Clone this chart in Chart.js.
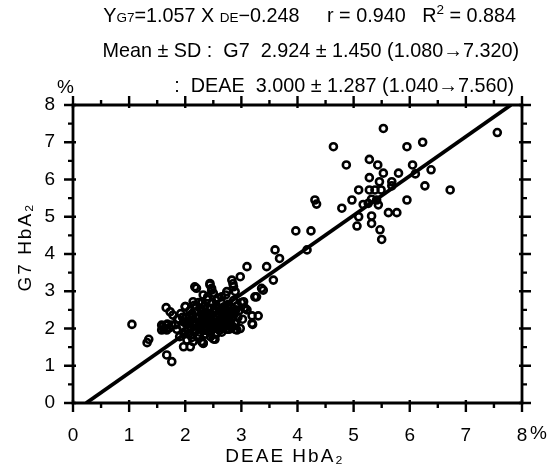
<!DOCTYPE html>
<html>
<head>
<meta charset="utf-8">
<script src="https://cdn.jsdelivr.net/npm/chart.js@4.4.1/dist/chart.umd.min.js"></script>
<style>
html,body{margin:0;padding:0;background:#fff;}
#c{display:block;}
</style>
</head>
<body>
<canvas id="c" width="550" height="468"></canvas>
<script>
// ---- data ----
const xTicks = [0, 1, 2, 3, 4, 5, 6, 7, 8];
const yTicks = [0, 1, 2, 3, 4, 5, 6, 7, 8];
const slope = 1.057;
const intercept = -0.248;

// DEAE HbA2 (x) values
const deae = [
  // upper group
  5.53, 7.56, 4.64, 5.95, 6.23, 4.87, 5.28, 5.43, 5.53, 5.80, 6.05, 6.10, 6.38, 5.28, 5.46, 5.68, 5.68,
  5.09, 5.28, 5.38, 5.49, 6.27, 6.72, 4.97, 5.32, 5.41, 5.95, 4.79, 5.17, 5.26, 5.44, 5.62, 5.77,
  5.09, 5.32, 5.06, 5.32, 5.47, 5.50, 4.31, 4.34,
  // middle
  3.97, 4.24, 4.17, 3.60, 3.68, 3.10, 3.45, 2.98, 3.57, 2.83, 3.36, 3.24, 2.20, 2.44, 2.47, 2.86,
  2.47, 2.74, 2.89, 2.14, 3.10, 3.30, 3.19, 3.19, 3.27, 3.39, 3.04, 3.07, 3.20,
  // low outliers
  1.05, 1.32, 1.35, 1.67, 1.76, 1.66, 1.73, 1.58, 1.67, 1.76, 1.58, 1.67, 1.86, 2.00,
  1.97, 2.09, 2.32, 2.53, 2.74, 2.92, 2.89,
  // dense cluster
  1.78, 1.82, 1.85, 1.88, 1.90, 1.92, 1.95, 1.97, 2.00, 2.00, 2.02, 2.03, 2.05, 2.06, 2.08, 2.10,
  2.10, 2.12, 2.13, 2.14, 2.15, 2.16, 2.17, 2.18, 2.19, 2.20, 2.21, 2.22, 2.23, 2.24, 2.25, 2.26,
  2.27, 2.28, 2.29, 2.30, 2.31, 2.32, 2.32, 2.33, 2.34, 2.35, 2.36, 2.37, 2.38, 2.39, 2.40, 2.41,
  2.42, 2.43, 2.44, 2.44, 2.45, 2.46, 2.47, 2.48, 2.49, 2.50, 2.50, 2.51, 2.52, 2.53, 2.54, 2.55,
  2.56, 2.57, 2.58, 2.59, 2.60, 2.61, 2.62, 2.63, 2.64, 2.65, 2.66, 2.68, 2.69, 2.70, 2.72, 2.73,
  2.74, 2.75, 2.77, 2.78, 2.79, 2.80, 2.82, 2.83, 2.85, 2.85, 2.86, 2.88, 2.90, 2.92, 2.94, 2.96,
  2.98, 3.00, 3.02, 3.05, 1.60, 1.62, 1.68, 1.72,
  // cluster core
  2.05, 2.12, 2.18, 2.22, 2.26, 2.28, 2.30, 2.35, 2.38, 2.40, 2.42, 2.45, 2.48, 2.50, 2.52, 2.55,
  2.58, 2.60, 2.62, 2.65, 2.68, 2.70, 2.72, 2.75, 2.78, 2.80, 2.82, 2.85, 2.88, 2.90, 2.15, 2.25,
  2.35, 2.45, 2.55, 2.65, 2.20, 2.30, 2.40, 2.55, 2.65, 2.75, 1.95, 2.00, 2.08, 1.98
];
// G7 HbA2 (y) values
const g7 = [
  7.37, 7.26, 6.88, 6.88, 7.00, 6.39, 6.54, 6.39, 6.17, 6.17, 6.39, 6.15, 6.26, 6.05, 5.94, 5.94, 5.83,
  5.72, 5.72, 5.72, 5.72, 5.83, 5.72, 5.45, 5.47, 5.45, 5.45, 5.23, 5.33, 5.36, 5.32, 5.11, 5.11,
  5.00, 5.02, 4.75, 4.82, 4.65, 4.39, 5.45, 5.34,
  4.62, 4.62, 4.11, 4.11, 3.88, 3.66, 3.66, 3.39, 3.30, 3.30, 3.08, 2.85, 3.08, 3.21, 3.08, 3.12,
  3.03, 2.99, 2.99, 2.72, 2.50, 2.34, 2.34, 2.14, 2.85, 3.03, 2.72, 2.54, 2.11,
  2.11, 1.62, 1.71, 1.29, 1.11, 2.56, 2.45, 2.09, 2.09, 2.09, 1.96, 1.96, 2.25, 2.59,
  1.51, 1.51, 1.60, 1.71, 1.98, 1.96, 1.98,
  2.36, 2.10, 1.98, 2.25, 1.78, 2.40, 2.05, 2.18, 2.59, 1.92, 2.30, 1.69, 2.12, 1.85, 2.48, 2.00,
  2.22, 1.76, 2.35, 1.65, 2.08, 2.62, 3.12, 1.95, 2.28, 2.15, 2.45, 1.82, 2.05, 2.70, 2.32, 1.90,
  2.20, 2.52, 1.65, 2.10, 2.38, 2.90, 1.61, 2.00, 2.25, 2.60, 1.85, 2.14, 2.42, 2.78, 2.02, 2.30,
  1.92, 2.20, 3.17, 2.55, 1.78, 2.08, 2.36, 2.68, 2.00, 2.95, 1.72, 2.25, 2.45, 2.12, 1.88, 2.60,
  2.30, 2.05, 2.82, 2.18, 2.40, 1.95, 2.50, 2.25, 2.70, 2.10, 2.35, 2.00, 2.58, 2.22, 2.90, 2.45,
  2.10, 2.30, 2.65, 1.98, 2.40, 2.18, 2.55, 2.28, 3.20, 2.05, 2.75, 2.40, 2.15, 2.60, 2.30, 2.48,
  2.00, 2.70, 2.25, 2.55, 2.05, 1.98, 2.12, 2.02,
  2.20, 2.40, 2.10, 2.30, 2.55, 2.00, 2.45, 2.15, 2.30, 2.55, 2.10, 2.40, 2.20, 2.45, 2.00, 2.35,
  2.15, 2.55, 2.05, 2.45, 2.30, 2.10, 2.50, 2.20, 2.35, 2.05, 2.45, 2.30, 2.15, 2.50, 1.90, 1.80,
  1.95, 1.90, 1.85, 1.90, 2.60, 2.70, 2.85, 2.75, 2.85, 2.60, 2.30, 2.15, 2.30, 1.85
];

const HF = 19.8; // header font size
const SF = 13.5; // sub/superscript size
const headerLine1 = [
  ['Y', HF], ['G7', SF], ['=1.057 X ', HF], ['DE', SF], ['\u22120.248     r = 0.940   R', HF], ['2', SF, 'sup'], [' = 0.884', HF]
];
const headerLine2 = 'Mean \u00B1 SD :  G7  2.924 \u00B1 1.450 (1.080\u21927.320)';
const headerLine3 = ':  DEAE  3.000 \u00B1 1.287 (1.040\u21927.560)';
const xTitle = 'DEAE HbA\u2082';
const yTitle = 'G7 HbA\u2082';

const FONT = '"Liberation Sans", Arial, Helvetica, sans-serif';

const points = deae.map((x, i) => ({x: x, y: g7[i]}));
const lineData = [
  {x: (0 - intercept) / slope, y: 0},
  {x: (8 - intercept) / slope, y: 8}
];

const decor = {
  id: 'decor',
  afterDraw(chart) {
    const ctx = chart.ctx;
    const xs = chart.scales.x, ys = chart.scales.y;
    const a = chart.chartArea;
    ctx.save();
    ctx.strokeStyle = '#000';
    ctx.lineWidth = 2.8;
    ctx.beginPath();
    ctx.rect(a.left, a.top, a.right - a.left, a.bottom - a.top);
    ctx.stroke();
    ctx.lineWidth = 2.4;
    for (let v = 0; v <= 8.001; v += 0.5) {
      const major = Math.abs(v - Math.round(v)) < 1e-6;
      const out = major ? 9 : 5;
      const inn = major ? 3 : 0;
      const px = xs.getPixelForValue(v);
      const py = ys.getPixelForValue(v);
      ctx.beginPath();
      ctx.moveTo(px, a.bottom - inn); ctx.lineTo(px, a.bottom + out);
      ctx.moveTo(px, a.top + inn); ctx.lineTo(px, a.top - out);
      ctx.moveTo(a.left + inn, py); ctx.lineTo(a.left - out, py);
      ctx.moveTo(a.right - inn, py); ctx.lineTo(a.right + out, py);
      ctx.stroke();
    }
    ctx.fillStyle = '#000';
    let total = 0;
    headerLine1.forEach(s => { ctx.font = s[1] + 'px ' + FONT; total += ctx.measureText(s[0]).width; });
    let x = 516 - total;
    ctx.textBaseline = 'alphabetic';
    ctx.textAlign = 'left';
    headerLine1.forEach(s => {
      ctx.font = s[1] + 'px ' + FONT;
      ctx.fillText(s[0], x, s[2] === 'sup' ? 14 : 22);
      x += ctx.measureText(s[0]).width;
    });
    ctx.font = HF + 'px ' + FONT;
    ctx.textAlign = 'right';
    ctx.fillText(headerLine2, 519, 57);
    ctx.fillText(headerLine3, 514, 92);
    ctx.font = '19px ' + FONT;
    ctx.textAlign = 'left';
    ctx.fillText('%', 57, 93);
    ctx.textBaseline = 'middle';
    ctx.fillText('%', xs.getPixelForValue(8) + 8, 434);
    ctx.textAlign = 'center';
    ctx.letterSpacing = '2px';
    ctx.fillText(xTitle, 285, 457);
    ctx.save();
    ctx.translate(26, 247);
    ctx.rotate(-Math.PI / 2);
    ctx.fillText(yTitle, 0, 0);
    ctx.restore();
    ctx.restore();
  }
};

new Chart(document.getElementById('c'), {
  type: 'scatter',
  data: {
    datasets: [
      {
        data: points,
        pointRadius: 3.5,
        pointHoverRadius: 3.5,
        borderWidth: 2.6,
        borderColor: '#000',
        backgroundColor: 'rgba(0,0,0,0)',
        pointStyle: 'circle'
      },
      {
        type: 'line',
        data: lineData,
        borderColor: '#000',
        borderWidth: 3.8,
        pointRadius: 0,
        fill: false
      }
    ]
  },
  options: {
    responsive: false,
    animation: false,
    events: [],
    layout: {padding: {top: 105, right: 28, left: 0, bottom: 0}},
    plugins: {legend: {display: false}, tooltip: {enabled: false}},
    scales: {
      x: {
        type: 'linear', min: 0, max: 8,
        afterFit(s) { s.height = 65; },
        afterBuildTicks(s) { s.ticks = xTicks.map(v => ({value: v})); },
        grid: {display: false, drawTicks: false},
        border: {display: false},
        ticks: {
          color: '#000', padding: 21,
          font: {family: FONT, size: 19},
          callback: v => String(v)
        }
      },
      y: {
        type: 'linear', min: 0, max: 8,
        afterFit(s) { s.width = 73; },
        afterBuildTicks(s) { s.ticks = yTicks.map(v => ({value: v})); },
        grid: {display: false, drawTicks: false},
        border: {display: false},
        ticks: {
          color: '#000', padding: 18,
          font: {family: FONT, size: 19},
          callback: v => String(v)
        }
      }
    }
  },
  plugins: [decor]
});
</script>
</body>
</html>
